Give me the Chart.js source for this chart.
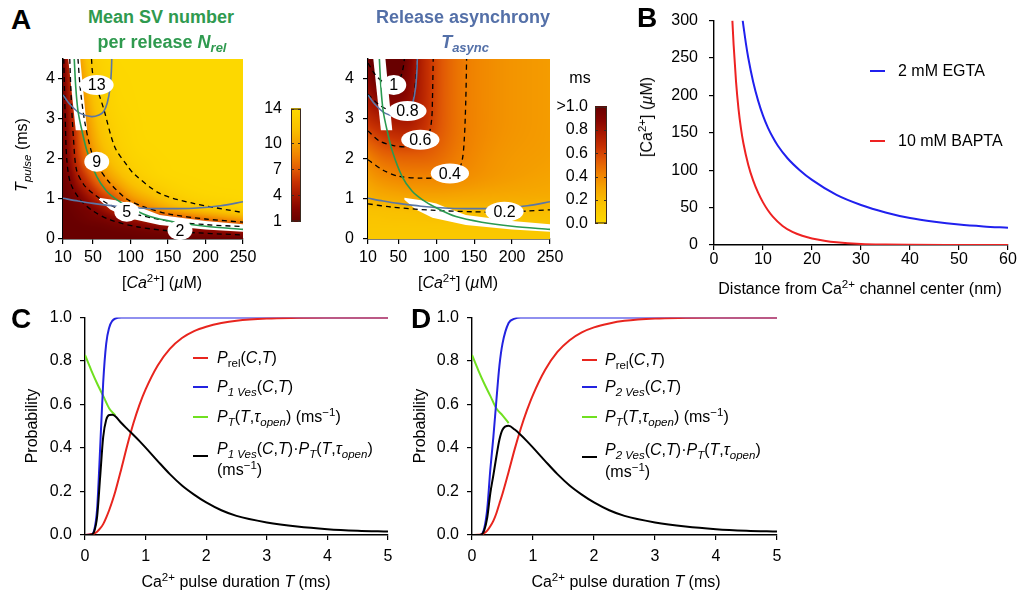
<!DOCTYPE html>
<html>
<head>
<meta charset="utf-8">
<script src="https://cdn.jsdelivr.net/npm/chart.js@4.4.1/dist/chart.umd.min.js"></script>
<style>
body { margin: 0; background: #fff; width: 1018px; height: 596px; position: relative; overflow: hidden;
       font-family: "Liberation Sans", Arial, Helvetica, sans-serif; }
canvas { position: absolute; }
.t { position: absolute; transform: translate(-50%, -50%); white-space: nowrap; font-size: 16px; line-height: 1; color: #000; }
.r { transform: translate(-50%, -50%) rotate(-90deg); }
.lt { position: absolute; transform: translateY(-50%); white-space: nowrap; font-size: 16px; line-height: 1; }
.sw { position: absolute; width: 15px; height: 2px; }
.big { font-weight: bold; font-size: 28px; }
.ttl { font-weight: bold; font-size: 18px; }
sub, sup { font-size: 72%; line-height: 0; position: relative; vertical-align: baseline; }
sub { top: 0.32em; }
sup { top: -0.5em; }
</style>
</head>
<body>
<canvas id="hmN"></canvas>
<canvas id="cbN"></canvas>
<canvas id="hmT"></canvas>
<canvas id="cbT"></canvas>
<canvas id="chB"></canvas>
<canvas id="chC"></canvas>
<canvas id="chD"></canvas>

<!-- panel letters and titles -->
<div class="t big" style="left:21px;top:20px">A</div>
<div class="t big" style="left:647px;top:18px">B</div>
<div class="t big" style="left:21px;top:319px">C</div>
<div class="t big" style="left:421px;top:319px">D</div>
<div class="t ttl" style="left:161px;top:17px;color:#2f9a4f">Mean SV number</div>
<div class="t ttl" style="left:162px;top:42px;color:#2f9a4f">per release <i>N</i><sub><i>rel</i></sub></div>
<div class="t ttl" style="left:463px;top:17px;color:#5470a8">Release asynchrony</div>
<div class="t ttl" style="left:465px;top:42px;color:#5470a8"><i>T</i><sub><i>async</i></sub></div>

<!-- axis titles -->
<div class="t r" style="left:22px;top:155px"><i>T</i><sub><i>pulse</i></sub> (ms)</div>
<div class="t" style="left:162px;top:283px">[<i>Ca</i><sup>2+</sup>] (<i>µ</i>M)</div>
<div class="t" style="left:458px;top:283px">[<i>Ca</i><sup>2+</sup>] (<i>µ</i>M)</div>
<div class="t" style="left:580px;top:78px">ms</div>
<div class="t r" style="left:647px;top:117px">[Ca<sup>2+</sup>] (<i>µ</i>M)</div>
<div class="t" style="left:860px;top:289px">Distance from Ca<sup>2+</sup> channel center (nm)</div>
<div class="t r" style="left:32px;top:426px">Probability</div>
<div class="t r" style="left:420px;top:426px">Probability</div>
<div class="t" style="left:236px;top:582px">Ca<sup>2+</sup> pulse duration <i>T</i> (ms)</div>
<div class="t" style="left:626px;top:582px">Ca<sup>2+</sup> pulse duration <i>T</i> (ms)</div>

<!-- legend B -->
<div class="sw" style="left:870px;top:70px;background:#2020ee"></div>
<div class="lt" style="left:898px;top:71px">2 mM EGTA</div>
<div class="sw" style="left:870px;top:140px;background:#ee2222"></div>
<div class="lt" style="left:898px;top:141px">10 mM BAPTA</div>

<!-- legend C -->
<div class="sw" style="left:193px;top:357px;background:#e8251e"></div>
<div class="lt" style="left:217px;top:358px"><i>P</i><sub>rel</sub>(<i>C</i>,<i>T</i>)</div>
<div class="sw" style="left:193px;top:386px;background:#2323e0"></div>
<div class="lt" style="left:217px;top:387px"><i>P</i><sub><i>1 Ves</i></sub>(<i>C</i>,<i>T</i>)</div>
<div class="sw" style="left:193px;top:416px;background:#70e020"></div>
<div class="lt" style="left:217px;top:417px"><i>P</i><sub><i>T</i></sub>(<i>T</i>,<i>τ</i><sub><i>open</i></sub>) (ms<sup>−1</sup>)</div>
<div class="sw" style="left:193px;top:455px;background:#000"></div>
<div class="lt" style="left:217px;top:449px"><i>P</i><sub><i>1 Ves</i></sub>(<i>C</i>,<i>T</i>)·<i>P</i><sub><i>T</i></sub>(<i>T</i>,<i>τ</i><sub><i>open</i></sub>)</div>
<div class="lt" style="left:217px;top:470px">(ms<sup>−1</sup>)</div>

<!-- legend D -->
<div class="sw" style="left:582px;top:359px;background:#e8251e"></div>
<div class="lt" style="left:605px;top:360px"><i>P</i><sub>rel</sub>(<i>C</i>,<i>T</i>)</div>
<div class="sw" style="left:582px;top:386px;background:#2323e0"></div>
<div class="lt" style="left:605px;top:387px"><i>P</i><sub><i>2 Ves</i></sub>(<i>C</i>,<i>T</i>)</div>
<div class="sw" style="left:582px;top:416px;background:#70e020"></div>
<div class="lt" style="left:605px;top:417px"><i>P</i><sub><i>T</i></sub>(<i>T</i>,<i>τ</i><sub><i>open</i></sub>) (ms<sup>−1</sup>)</div>
<div class="sw" style="left:582px;top:456px;background:#000"></div>
<div class="lt" style="left:605px;top:450px"><i>P</i><sub><i>2 Ves</i></sub>(<i>C</i>,<i>T</i>)·<i>P</i><sub><i>T</i></sub>(<i>T</i>,<i>τ</i><sub><i>open</i></sub>)</div>
<div class="lt" style="left:605px;top:472px">(ms<sup>−1</sup>)</div>

<script>
// ---------- panel A data ----------
const caGrid = [10, 20, 30, 45, 60, 80, 100, 130, 175, 250];
const tGrid = [0, 0.25, 0.5, 0.75, 1, 1.5, 2, 3, 4.5];
// mean SV number per release, rows follow tGrid, columns follow caGrid
const nrelGrid = [
  [1, 1, 1, 1, 1, 1, 1, 1, 1, 1],
  [1, 1, 1, 1.05, 1.1, 1.3, 1.5, 2, 2.8, 4.3],
  [1, 1.05, 1.2, 1.5, 1.8, 2.5, 3.4, 4.9, 7, 10],
  [1, 1.2, 1.5, 2, 3.1, 4.8, 6.4, 8.8, 11.2, 13.2],
  [1.05, 1.5, 2, 3.4, 5.1, 6.7, 9, 11, 13, 13.8],
  [1.2, 2.2, 4, 6.2, 8.2, 10.3, 12, 13.3, 13.9, 14],
  [1.3, 3.3, 5.7, 8.2, 10.3, 12.2, 13.3, 13.8, 14, 14],
  [1.5, 4, 6.8, 10, 12.2, 13.4, 13.8, 14, 14, 14],
  [1.8, 5.4, 9, 12.3, 13.4, 13.9, 14, 14, 14, 14]
];
// release asynchrony (ms)
const tasyncGrid = [
  [0.12, 0.12, 0.12, 0.12, 0.12, 0.12, 0.12, 0.12, 0.12, 0.12],
  [0.13, 0.13, 0.13, 0.13, 0.13, 0.13, 0.13, 0.13, 0.13, 0.13],
  [0.15, 0.15, 0.155, 0.16, 0.16, 0.165, 0.17, 0.17, 0.17, 0.17],
  [0.18, 0.185, 0.19, 0.195, 0.2, 0.205, 0.205, 0.21, 0.21, 0.205],
  [0.23, 0.25, 0.26, 0.27, 0.28, 0.285, 0.285, 0.28, 0.27, 0.26],
  [0.32, 0.35, 0.37, 0.39, 0.4, 0.4, 0.4, 0.38, 0.34, 0.3],
  [0.41, 0.45, 0.48, 0.5, 0.51, 0.51, 0.49, 0.43, 0.36, 0.32],
  [0.68, 0.72, 0.75, 0.78, 0.78, 0.7, 0.58, 0.46, 0.38, 0.33],
  [0.97, 1.1, 1.15, 1.12, 0.97, 0.74, 0.59, 0.46, 0.38, 0.33]
];
const caTicks = [10, 50, 100, 150, 200, 250];
const tTicks = [0, 1, 2, 3, 4];
const nrelBarTicks = [1, 4, 7, 10, 14];
const tasyncBarTicks = [0, 0.2, 0.4, 0.6, 0.8, 1];

// contour lines, [Ca, T] pairs
const nrel2 = [[11, 4.5], [13, 3], [15, 2], [20, 1.4], [33, 0.98], [50, 0.7], [73, 0.48], [110, 0.3], [166, 0.18], [250, 0.1]];
const nrel5 = [[19, 4.5], [21, 3.5], [24, 2.5], [28, 1.73], [38, 1.35], [50, 1.14], [70, 0.88], [95, 0.68], [150, 0.45], [200, 0.36], [250, 0.31]];
const nrel9 = [[30, 4.5], [33, 3.77], [39, 2.93], [48, 2.18], [57, 1.8], [73, 1.39], [95, 1.0], [117, 0.81], [150, 0.63], [200, 0.5], [250, 0.42]];
const nrel13 = [[48, 4.5], [50, 4.1], [64, 3.27], [79, 2.3], [95, 1.85], [104, 1.64], [139, 1.14], [184, 0.89], [250, 0.66]];
const tas02 = [[10, 0.88], [40, 0.8], [94, 0.72], [150, 0.68], [190, 0.67], [220, 0.7], [250, 0.73]];
const tas04 = [[10, 1.98], [30, 1.72], [50, 1.57], [80, 1.52], [110, 1.55], [128, 1.7], [134, 1.95], [137, 2.5], [139, 3.5], [140, 4.5]];
const tas06 = [[10, 2.7], [25, 2.45], [45, 2.33], [65, 2.3], [80, 2.35], [90, 2.6], [94, 3.0], [95, 3.5], [96, 4.5]];
const tas08 = [[10, 3.62], [25, 3.35], [40, 3.2], [55, 3.15], [65, 3.2], [70, 3.5], [73, 4.0], [75, 4.5]];
const tas1 = [[10, 4.4], [20, 4.1], [32, 3.9], [45, 3.85], [52, 4.0], [56, 4.25], [58, 4.5]];
const blueUpper = [[10, 3.6], [20, 3.35], [33, 3.14], [48, 3.06], [58, 3.1], [64, 3.18], [69, 3.4], [72.7, 3.77], [74.5, 4.2], [75, 4.5]];
const blueLower = [[10, 1.02], [30, 0.95], [50, 0.89], [80, 0.82], [117, 0.77], [150, 0.76], [184, 0.77], [220, 0.83], [250, 0.93]];
const greenLine = [[25, 4.5], [27, 3.8], [30, 3.2], [35, 2.73], [42, 2.2], [55, 1.56], [68, 1.2], [82, 0.98], [100, 0.78], [126, 0.56], [160, 0.42], [200, 0.32], [250, 0.24]];
const bandUpper = [[17, 4.5], [33, 4.5], [42, 2.72], [27, 2.72]];
const bandLower = [[58, 1.03], [80, 0.97], [100, 0.89], [113, 0.79], [139, 0.6], [200, 0.45], [250, 0.37],
                   [250, 0.18], [200, 0.24], [139, 0.35], [95, 0.53], [73, 0.74], [58, 0.98]];
const contourLabels = {
  nrel: [[55, 3.85, '13'], [55, 1.93, '9'], [95, 0.68, '5'], [166, 0.22, '2']],
  tasync: [[44, 3.85, '1'], [62, 3.2, '0.8'], [79, 2.48, '0.6'], [118, 1.64, '0.4'], [190, 0.68, '0.2']]
};

// ---------- panel B data ----------
const egtaDist = [5.86, 6, 6.5, 7, 8, 9, 10, 11, 12, 13, 15, 17.5, 20, 25, 30, 35, 40, 45, 50, 55, 60];
const egtaCa = [300, 293, 270, 250, 218, 193, 173, 157, 144, 133, 116, 100, 87, 67, 53.5, 43.5, 36, 31, 27.3, 24.8, 23];
const baptaDist = [3.75, 4, 4.5, 5, 5.5, 6, 7, 8, 9, 10, 11, 12, 14, 16, 18, 20, 22.5, 25, 30, 35, 40, 50, 60];
const baptaCa = [300, 268, 218, 182, 156, 136, 107, 86, 70, 57, 46.5, 38, 25.5, 17.5, 12.3, 8.8, 5.8, 3.7, 1.4, 0.55, 0.22, 0.04, 0];
const distTicks = [0, 10, 20, 30, 40, 50, 60];
const caTicksB = [0, 50, 100, 150, 200, 250, 300];

// ---------- panels C and D data ----------
const pulseT = [0, 0.1, 0.15, 0.2, 0.25, 0.3, 0.35, 0.4, 0.45, 0.5, 0.6, 0.7, 0.8, 0.9, 1.0, 1.2, 1.4, 1.6, 1.8, 2.0, 2.25, 2.5, 3.0, 3.5, 4.0, 4.5, 5.0];
const cPrel  = [0, 0.003, 0.007, 0.015, 0.03, 0.05, 0.08, 0.115, 0.155, 0.2, 0.305, 0.415, 0.515, 0.6, 0.67, 0.78, 0.856, 0.906, 0.938, 0.958, 0.975, 0.986, 0.996, 0.999, 1, 1, 1];
const cP1Ves = [0, 0.002, 0.02, 0.12, 0.4, 0.7, 0.88, 0.955, 0.985, 0.996, 1, 1, 1, 1, 1, 1, 1, 1, 1, 1, 1, 1, 1, 1, 1, 1, 1];
const cProd  = [0, 0.0015, 0.015, 0.084, 0.267, 0.45, 0.53, 0.552, 0.553, 0.546, 0.515, 0.487, 0.46, 0.432, 0.402, 0.34, 0.28, 0.228, 0.186, 0.15, 0.114, 0.088, 0.058, 0.039, 0.027, 0.02, 0.016];
const cGreenT = [0, 0.1, 0.2, 0.3, 0.4, 0.5];
const cPT     = [0.828, 0.76, 0.697, 0.64, 0.582, 0.55];
const dPrel  = [0, 0.001, 0.002, 0.008, 0.02, 0.04, 0.065, 0.1, 0.145, 0.19, 0.29, 0.395, 0.49, 0.573, 0.645, 0.76, 0.842, 0.896, 0.932, 0.955, 0.973, 0.985, 0.996, 0.999, 1, 1, 1];
const dP2Ves = [0, 0, 0.002, 0.03, 0.12, 0.3, 0.45, 0.62, 0.78, 0.88, 0.975, 0.995, 1, 1, 1, 1, 1, 1, 1, 1, 1, 1, 1, 1, 1, 1, 1];
const dProd  = [0, 0, 0.001, 0.021, 0.08, 0.192, 0.275, 0.361, 0.439, 0.484, 0.502, 0.485, 0.46, 0.432, 0.402, 0.34, 0.28, 0.228, 0.186, 0.15, 0.114, 0.088, 0.058, 0.039, 0.027, 0.02, 0.016];
const dGreenT = [0, 0.1, 0.2, 0.3, 0.4, 0.5, 0.6];
const dPT     = [0.828, 0.76, 0.697, 0.64, 0.582, 0.55, 0.515];
const pulseTicks = [0, 1, 2, 3, 4, 5];
const probTicks = [0, 0.2, 0.4, 0.6, 0.8, 1];

// ---------- styling ----------
const FONT = '"Liberation Sans", Arial, Helvetica, sans-serif';
const RED = '#e8251e', BLUE = '#2323e0', GREEN = '#70e020';
const CBLUE = '#5a76a6', CGREEN = '#2a9a50';
const cmapStops = [[0, [104, 0, 0]], [0.12, [135, 5, 0]], [0.23, [168, 24, 0]], [0.35, [200, 50, 2]],
                   [0.46, [225, 90, 5]], [0.58, [240, 130, 0]], [0.69, [245, 162, 0]], [0.82, [249, 192, 0]], [1, [253, 216, 0]]];

function cmap(v) {
  v = Math.max(0, Math.min(1, v));
  for (let i = 0; i < cmapStops.length - 1; i++) {
    const a = cmapStops[i], b = cmapStops[i + 1];
    if (v <= b[0]) {
      const f = (v - a[0]) / (b[0] - a[0]);
      return [0, 1, 2].map(k => Math.round(a[1][k] + (b[1][k] - a[1][k]) * f));
    }
  }
  return cmapStops[cmapStops.length - 1][1];
}
function colorFor(key, val) {
  return key === 'nrel' ? cmap((val - 1) / 13) : cmap(1 - val);
}
const heatGrids = {nrel: nrelGrid, tasync: tasyncGrid};

// monotone cubic through grid nodes, used only to shade between them
function monoSlopes(xs, ys) {
  const n = xs.length, d = [], m = new Array(n);
  for (let k = 0; k < n - 1; k++) d.push((ys[k + 1] - ys[k]) / (xs[k + 1] - xs[k]));
  m[0] = d[0]; m[n - 1] = d[n - 2];
  for (let k = 1; k < n - 1; k++) m[k] = d[k - 1] * d[k] <= 0 ? 0 : (d[k - 1] + d[k]) / 2;
  for (let k = 0; k < n - 1; k++) {
    if (d[k] === 0) { m[k] = 0; m[k + 1] = 0; continue; }
    const a = m[k] / d[k], b = m[k + 1] / d[k], s = a * a + b * b;
    if (s > 9) { const t = 3 / Math.sqrt(s); m[k] = t * a * d[k]; m[k + 1] = t * b * d[k]; }
  }
  return m;
}
function monoEval(xs, ys, m, x) {
  let k = 0; while (k < xs.length - 2 && x > xs[k + 1]) k++;
  const h = xs[k + 1] - xs[k];
  const t = Math.max(0, Math.min(1, (x - xs[k]) / h)), t2 = t * t, t3 = t2 * t;
  return (2 * t3 - 3 * t2 + 1) * ys[k] + (t3 - 2 * t2 + t) * h * m[k] +
         (-2 * t3 + 3 * t2) * ys[k + 1] + (t3 - t2) * h * m[k + 1];
}

// heatmap + white bands, painted under the contour datasets
const heatPlugin = {
  id: 'heat',
  beforeDatasetsDraw(chart, args, opts) {
    const g = heatGrids[opts.key];
    const {ctx, chartArea: a, scales: {x, y}} = chart;
    const w = Math.round(a.right - a.left), h = Math.round(a.bottom - a.top);
    const off = document.createElement('canvas');
    off.width = w; off.height = h;
    const octx = off.getContext('2d');
    const img = octx.createImageData(w, h);
    const cols = caGrid.map((c, i) => g.map(row => row[i]));
    const colSlopes = cols.map(col => monoSlopes(tGrid, col));
    const cs = [];
    for (let i = 0; i < w; i++) cs.push(x.getValueForPixel(a.left + i + 0.5));
    for (let j = 0; j < h; j++) {
      const t = y.getValueForPixel(a.top + j + 0.5);
      const rowVals = cols.map((col, i) => monoEval(tGrid, col, colSlopes[i], t));
      const rowSlopes = monoSlopes(caGrid, rowVals);
      for (let i = 0; i < w; i++) {
        const col = colorFor(opts.key, monoEval(caGrid, rowVals, rowSlopes, cs[i]));
        const k = (j * w + i) * 4;
        img.data[k] = col[0]; img.data[k + 1] = col[1]; img.data[k + 2] = col[2]; img.data[k + 3] = 255;
      }
    }
    octx.putImageData(img, 0, 0);
    ctx.drawImage(off, a.left, a.top);

    ctx.save();
    ctx.beginPath(); ctx.rect(a.left, a.top, a.width, a.height); ctx.clip();
    ctx.fillStyle = '#fff';
    [bandUpper, bandLower].forEach(poly => {
      ctx.beginPath();
      poly.forEach((p, i) => {
        const px = x.getPixelForValue(p[0]), py = y.getPixelForValue(p[1]);
        if (i) ctx.lineTo(px, py); else ctx.moveTo(px, py);
      });
      ctx.closePath(); ctx.fill();
    });
    ctx.restore();
  }
};

const labelPlugin = {
  id: 'clabels',
  afterDatasetsDraw(chart, args, opts) {
    const items = contourLabels[opts.key];
    const {ctx, scales: {x, y}} = chart;
    ctx.save();
    ctx.font = '16px ' + FONT;
    ctx.textAlign = 'center'; ctx.textBaseline = 'middle';
    items.forEach(it => {
      const px = x.getPixelForValue(it[0]), py = y.getPixelForValue(it[1]);
      const w = ctx.measureText(it[2]).width + 16;
      ctx.fillStyle = '#fff';
      ctx.beginPath(); ctx.ellipse(px, py, w / 2, 10, 0, 0, Math.PI * 2); ctx.fill();
      ctx.fillStyle = '#000';
      ctx.fillText(it[2], px, py + 1);
    });
    ctx.restore();
  }
};

const barPlugin = {
  id: 'cbar',
  beforeDatasetsDraw(chart, args, opts) {
    const {ctx, chartArea: a, scales: {y}} = chart;
    for (let py = Math.floor(a.top); py < a.bottom; py++) {
      const c = colorFor(opts.key, y.getValueForPixel(py + 0.5));
      ctx.fillStyle = 'rgb(' + c.join(',') + ')';
      ctx.fillRect(a.left, py, a.right - a.left, 1);
    }
    ctx.strokeStyle = '#3a2a20'; ctx.lineWidth = 1;
    ctx.strokeRect(a.left + 0.5, a.top + 0.5, a.width - 1, a.height - 1);
    y.ticks.forEach(tk => {
      const py = Math.round(y.getPixelForValue(tk.value)) + 0.5;
      ctx.beginPath();
      ctx.moveTo(a.left, py); ctx.lineTo(a.left + 3, py);
      ctx.moveTo(a.right, py); ctx.lineTo(a.right - 3, py);
      ctx.stroke();
    });
  }
};

// ---------- helpers ----------
function place(id, L, T, W, H) {
  const c = document.getElementById(id);
  c.width = W; c.height = H;
  c.style.left = L + 'px'; c.style.top = T + 'px';
  c.style.width = W + 'px'; c.style.height = H + 'px';
  return c;
}
function xy(pairs) { return pairs.map(p => ({x: p[0], y: p[1]})); }
function zip(xs, ys) { return xs.map((x, i) => ({x: x, y: ys[i]})); }

function axis(min, max, ticks, o) {
  return {
    type: 'linear', min: min, max: max, display: o.display !== false,
    afterBuildTicks: s => { s.ticks = ticks.map(v => ({value: v})); },
    afterFit: s => { if (o.w != null) s.width = o.w; if (o.h != null) s.height = o.h; },
    grid: {drawOnChartArea: false, drawTicks: o.tl !== 0, tickLength: o.tl == null ? 5 : o.tl, color: '#000', lineWidth: 1.2},
    border: {display: o.border !== false, color: '#000', width: 1.4},
    ticks: {color: '#000', font: {family: FONT, size: 16}, padding: o.pad, maxRotation: 0, autoSkip: false,
            callback: o.fmt || (v => String(v))}
  };
}
function options(pad, scales, extra) {
  return {
    responsive: false, animation: false, devicePixelRatio: 1, events: [],
    layout: {padding: pad},
    plugins: Object.assign({legend: {display: false}, tooltip: {enabled: false}}, extra || {}),
    scales: scales
  };
}
function line(data, color, width, dash, smooth) {
  const ds = {data: data, showLine: true, borderColor: color, borderWidth: width, borderDash: dash || [],
              pointRadius: 0, fill: false};
  if (smooth === 'mono') ds.cubicInterpolationMode = 'monotone'; else ds.tension = 0.3;
  return ds;
}
const DASH = [5, 4];

// ---------- panel A: N_rel ----------
new Chart(place('hmN', 0, 40, 270, 260), {
  type: 'scatter',
  data: {datasets: [
    line(xy(greenLine), CGREEN, 1.6),
    line(xy(blueUpper), CBLUE, 1.6),
    line(xy(blueLower), CBLUE, 1.6),
    line(xy(nrel2), '#000', 1.3, DASH),
    line(xy(nrel5), '#000', 1.3, DASH),
    line(xy(nrel9), '#000', 1.3, DASH),
    line(xy(nrel13), '#000', 1.3, DASH)
  ]},
  options: options({top: 19, right: 27, left: 0, bottom: 0}, {
    x: axis(10, 250, caTicks, {h: 61, pad: 4}),
    y: axis(0, 4.5, tTicks, {w: 63, pad: 3})
  }, {heat: {key: 'nrel'}, clabels: {key: 'nrel'}}),
  plugins: [heatPlugin, labelPlugin]
});

new Chart(place('cbN', 250, 90, 60, 150), {
  type: 'scatter',
  data: {datasets: []},
  options: options({top: 15, right: 9, left: 0, bottom: 15}, {
    x: axis(0, 1, [], {display: false}),
    y: axis(1, 14, nrelBarTicks, {w: 41, pad: 9, tl: 0, border: false})
  }, {cbar: {key: 'nrel'}}),
  plugins: [barPlugin]
});

// ---------- panel A: T_async ----------
new Chart(place('hmT', 310, 40, 270, 260), {
  type: 'scatter',
  data: {datasets: [
    line(xy(greenLine), CGREEN, 1.6),
    line(xy(blueUpper), CBLUE, 1.6),
    line(xy(blueLower), CBLUE, 1.6),
    line(xy(tas02), '#000', 1.3, DASH),
    line(xy(tas04), '#000', 1.3, DASH),
    line(xy(tas06), '#000', 1.3, DASH),
    line(xy(tas08), '#000', 1.3, DASH),
    line(xy(tas1), '#000', 1.3, DASH)
  ]},
  options: options({top: 19, right: 30, left: 0, bottom: 0}, {
    x: axis(10, 250, caTicks, {h: 61, pad: 4}),
    y: axis(0, 4.5, tTicks, {w: 58, pad: 9})
  }, {heat: {key: 'tasync'}, clabels: {key: 'tasync'}}),
  plugins: [heatPlugin, labelPlugin]
});

new Chart(place('cbT', 540, 90, 80, 150), {
  type: 'scatter',
  data: {datasets: []},
  options: options({top: 15, right: 13, left: 0, bottom: 15}, {
    x: axis(0, 1, [], {display: false}),
    y: axis(0, 1, tasyncBarTicks, {w: 55, pad: 7, tl: 0, border: false,
            fmt: v => (v === 1 ? '>1.0' : v.toFixed(1))})
  }, {cbar: {key: 'tasync'}}),
  plugins: [barPlugin]
});

// ---------- panel B ----------
new Chart(place('chB', 650, 0, 368, 300), {
  type: 'scatter',
  data: {datasets: [
    line(zip(egtaDist, egtaCa), '#2020ee', 2, null, 'mono'),
    line(zip(baptaDist, baptaCa), '#ee2222', 2, null, 'mono')
  ]},
  options: options({top: 19, right: 10, left: 0, bottom: 0}, {
    x: axis(0, 60, distTicks, {h: 55, pad: 0}),
    y: axis(0, 300, caTicksB, {w: 64, pad: 11})
  })
});

// ---------- panels C and D ----------
function probChart(id, L, yw, padR, prel, pves, prod, greenT, pt) {
  new Chart(place(id, L, 300, 380, 296), {
    type: 'scatter',
    data: {datasets: [
      line(zip(pulseT, prod), '#000', 2, null, 'mono'),
      line(zip(pulseT, prel), RED, 2, null, 'mono'),
      line(zip(pulseT, pves), BLUE, 2, null, 'mono'),
      line(zip(greenT, pt), GREEN, 2, null, 'mono')
    ]},
    options: options({top: 16, right: padR, left: 0, bottom: 0}, {
      x: axis(0, 5, pulseTicks, {h: 61, pad: 7}),
      y: axis(0, 1, probTicks, {w: yw, pad: 8, fmt: v => v.toFixed(1)})
    })
  });
}
probChart('chC', 30, 55, 22, cPrel, cP1Ves, cProd, cGreenT, cPT);
probChart('chD', 420, 52, 23, dPrel, dP2Ves, dProd, dGreenT, dPT);
</script>
</body>
</html>
